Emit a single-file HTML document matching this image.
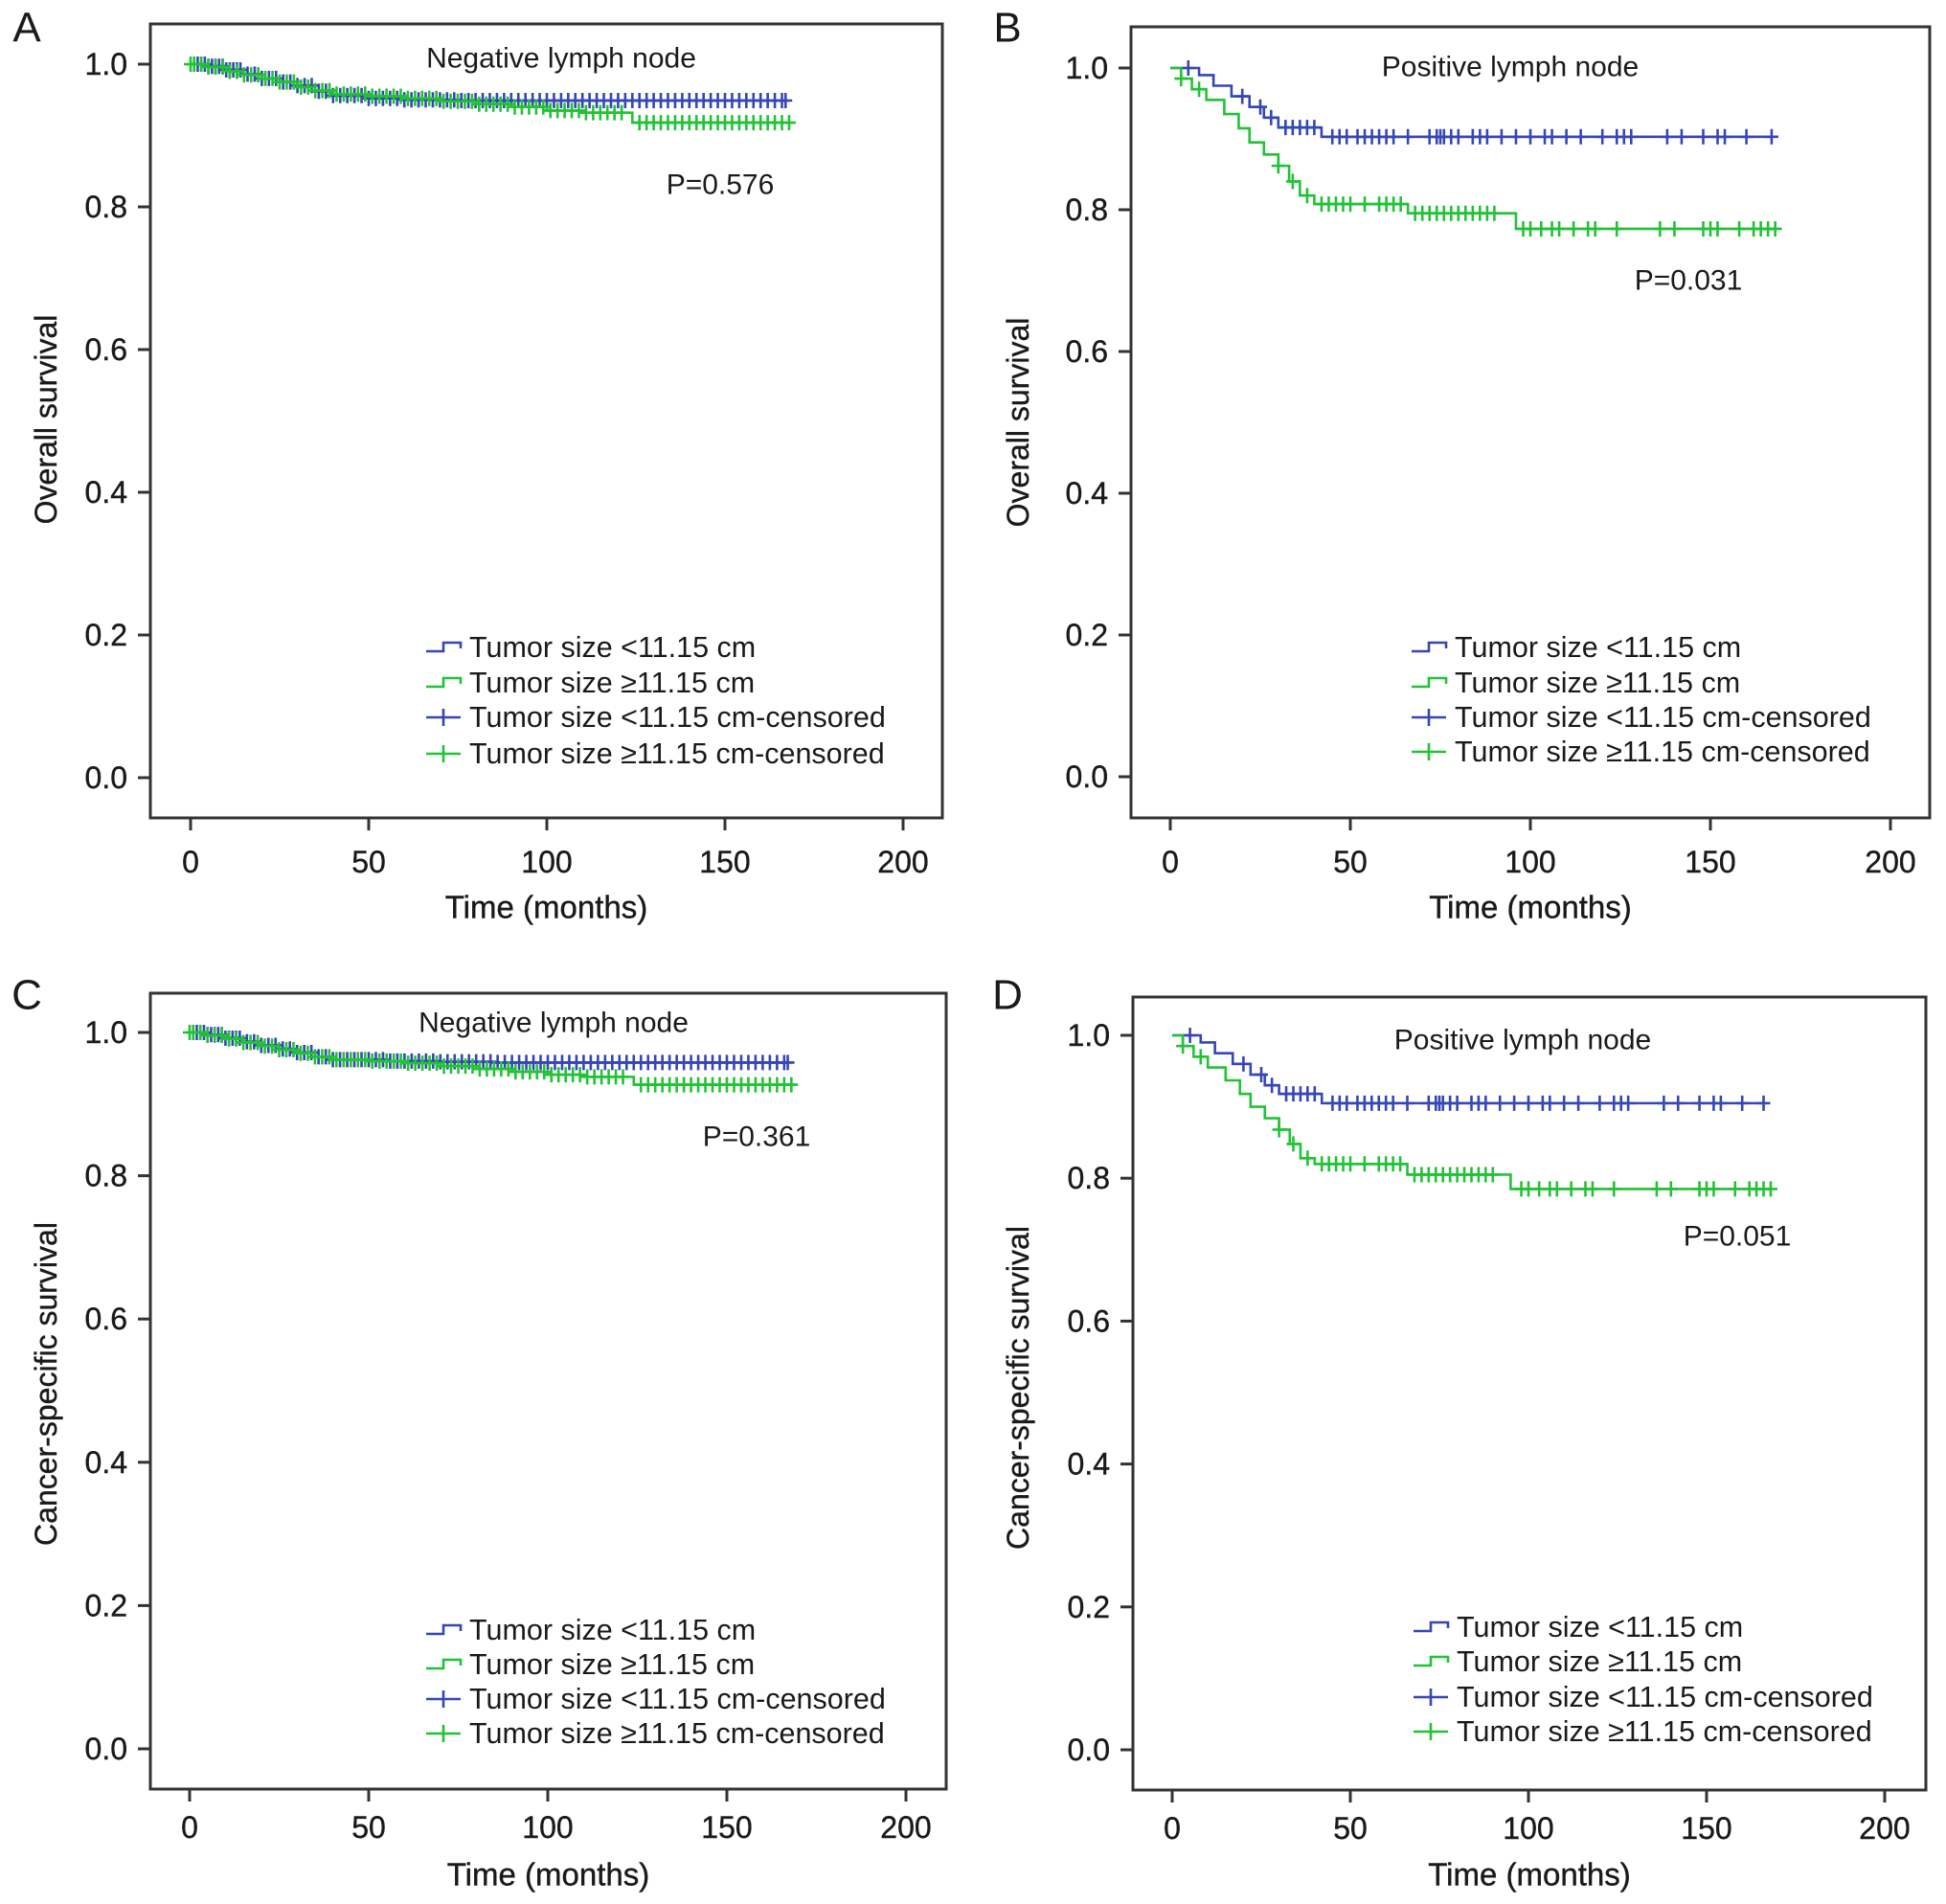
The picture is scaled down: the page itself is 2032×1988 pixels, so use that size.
<!DOCTYPE html>
<html><head><meta charset="utf-8"><style>
html,body{margin:0;padding:0;background:#fff;}
svg{display:block;font-family:"Liberation Sans",Arial,sans-serif;}
</style></head><body>
<svg id="fig" width="2032" height="1988" viewBox="0 0 2032 1988" xmlns="http://www.w3.org/2000/svg"></svg>
<script>
// ---- Panel A data (overall survival, negative lymph node)
const aBlueTimes = [0,5,10,15,20,25,30,35,40,50,60,75,85];
const aBlueSurv  = [1,0.997,0.992,0.986,0.98,0.975,0.97,0.962,0.956,0.952,0.95,0.949,0.949];
const aBlueEnd = 167;
const aGreenTimes = [0,5,10,15,20,25,30,35,40,50,60,70,80,90,100,110,124];
const aGreenSurv  = [1,0.996,0.99,0.985,0.98,0.975,0.968,0.963,0.958,0.955,0.952,0.948,0.944,0.94,0.935,0.932,0.918];
const aGreenEnd = 169;
const aBlueCens = [2,3,4,5,6,7,8,9,10,11,12,13,14,16,18,20,22,24,26,28,30,32,34,36,38,40,42,44,46,48,50,52,54,56,58,60,62,64,66,68,70,72,74,76,78,80,82,84,86,88,90,92,94,96,98,100,102,104,106,108,110,112,114,116,118,120,122,124,126,128,130,132,134,136,138,140,142,144,146,148,150,152,154,156,158,160,162,164,166,167];
const aGreenCens = [0,1,3,5,7,9,11,13,15,17,19,21,23,25,27,29,31,33,35,37,39,41,43,45,47,49,51,53,55,57,59,61,63,65,67,69,71,73,75,77,79,81,83,85,87,89,91,93,95,97,99,101,103,105,107,109,111,113,115,117,119,121,126,128,130,132,134,136,138,140,142,144,146,148,150,152,154,156,158,160,162,164,166,168];
// ---- Panel B data (overall survival, positive lymph node)
const bBlueTimes = [0,8,12,17,22,26,30,42];
const bBlueSurv  = [1,0.99,0.975,0.96,0.945,0.93,0.916,0.903];
const bBlueEnd = 167;
const bGreenTimes = [0,3,6,10,15,19,22,26,30,33,36,40,66,96];
const bGreenSurv  = [1,0.985,0.97,0.955,0.935,0.915,0.895,0.878,0.862,0.84,0.82,0.808,0.795,0.773];
const bGreenEnd = 168;
const bBlueCens = [5,20,25,28,32,34,36,38,40,45,47,49,52,54,56,58,60,62,66,72,74,75,76,78,80,84,86,88,92,96,100,104,106,110,114,120,124,126,128,138,142,148,152,154,160,167];
const bGreenCens = [3,8,30,34,38,42,44,46,48,50,54,58,60,62,64,68,70,72,74,76,78,80,82,84,86,88,90,98,100,103,106,108,112,116,118,124,136,140,148,150,152,158,162,164,166,168];
// ---- Panel C data (cancer-specific survival, negative lymph node)
const cBlueTimes = [0,5,10,15,20,25,30,35,40,55,70,85];
const cBlueSurv  = [1,0.997,0.992,0.987,0.982,0.977,0.972,0.966,0.962,0.96,0.959,0.958];
const cBlueEnd = 167;
const cGreenTimes = [0,5,10,15,20,25,30,35,40,50,60,70,80,90,100,110,124];
const cGreenSurv  = [1,0.996,0.991,0.986,0.981,0.976,0.971,0.966,0.962,0.96,0.957,0.953,0.949,0.945,0.941,0.938,0.927];
const cGreenEnd = 169;
const cBlueCens = [2,3,4,5,6,7,8,9,10,11,12,13,14,16,18,20,22,24,26,28,30,32,34,36,38,40,42,44,46,48,50,52,54,56,58,60,62,64,66,68,70,72,74,76,78,80,82,84,86,88,90,92,94,96,98,100,102,104,106,108,110,112,114,116,118,120,122,124,126,128,130,132,134,136,138,140,142,144,146,148,150,152,154,156,158,160,162,164,166,167];
const cGreenCens = [0,1,3,5,7,9,11,13,15,17,19,21,23,25,27,29,31,33,35,37,39,41,43,45,47,49,51,53,55,57,59,61,63,65,67,69,71,73,75,77,79,81,83,85,87,89,91,93,95,97,99,101,103,105,107,109,111,113,115,117,119,121,126,128,130,132,134,136,138,140,142,144,146,148,150,152,154,156,158,160,162,164,166,168];
// ---- Panel D data (cancer-specific survival, positive lymph node)
const dBlueTimes = [0,8,12,17,22,26,30,42];
const dBlueSurv  = [1,0.99,0.975,0.96,0.945,0.93,0.918,0.905];
const dBlueEnd = 167;
const dGreenTimes = [0,3,6,10,15,19,22,26,30,33,36,40,66,95];
const dGreenSurv  = [1,0.985,0.97,0.955,0.937,0.918,0.9,0.884,0.868,0.848,0.828,0.82,0.805,0.785];
const dGreenEnd = 168;
const dBlueCens = [5,20,25,28,32,34,36,38,40,45,47,49,52,54,56,58,60,62,66,72,74,75,76,78,80,84,86,88,92,96,100,104,106,110,114,120,124,126,128,138,142,148,152,154,160,166];
const dGreenCens = [3,8,30,34,38,42,44,46,48,50,54,58,60,62,64,68,70,72,74,76,78,80,82,84,86,88,90,98,100,103,106,108,112,116,118,124,136,140,148,150,152,158,162,164,166,168];

const xTicks = [0,50,100,150,200];
const yTicks = [0,0.2,0.4,0.6,0.8,1.0];
const yTickLabels = ["0.0","0.2","0.4","0.6","0.8","1.0"];
const legendLabels = ["Tumor size <11.15 cm","Tumor size \u226511.15 cm","Tumor size <11.15 cm-censored","Tumor size \u226511.15 cm-censored"];

const BLUE = "#3646b4", GREEN = "#22c236";
const NS = "http://www.w3.org/2000/svg";
const svg = document.getElementById("fig");
function mk(tag, attrs, parent){
  const e = document.createElementNS(NS, tag);
  for (const k in attrs) e.setAttribute(k, attrs[k]);
  (parent||svg).appendChild(e);
  return e;
}
function txt(s, x, y, size, parent, anchor, extra){
  const t = mk("text", Object.assign({x:x, y:y, "font-size":size, fill:"#1a1a1a", "text-anchor":anchor||"middle", "dominant-baseline":"central"}, extra||{}), parent);
  t.textContent = s;
  return t;
}

const panels = [
  {id:"a", letter:"A", L:157, T:25, R:984, B:854, x0:199, x200:943, y0:812, y1:67,
   title:"Negative lymph node", tx:586, ty:61, p:"P=0.576", px:752, py:193,
   yt:"Overall survival", ytx:48, yty:438, xty:947, xly:900, lgx:445, lgy:[676,713,749,787], lx:28, ly:29,
   bt:aBlueTimes, bs:aBlueSurv, be:aBlueEnd, gt:aGreenTimes, gs:aGreenSurv, ge:aGreenEnd, bc:aBlueCens, gc:aGreenCens},
  {id:"b", letter:"B", L:1181, T:28, R:2015, B:854, x0:1222, x200:1974, y0:811, y1:71,
   title:"Positive lymph node", tx:1577, ty:70, p:"P=0.031", px:1763, py:293,
   yt:"Overall survival", ytx:1063, yty:441, xty:947, xly:900, lgx:1474, lgy:[676,713,749,785], lx:1052, ly:29,
   bt:bBlueTimes, bs:bBlueSurv, be:bBlueEnd, gt:bGreenTimes, gs:bGreenSurv, ge:bGreenEnd, bc:bBlueCens, gc:bGreenCens},
  {id:"c", letter:"C", L:157, T:1037, R:988, B:1868, x0:198, x200:946, y0:1826, y1:1078,
   title:"Negative lymph node", tx:578, ty:1068, p:"P=0.361", px:790, py:1187,
   yt:"Cancer-specific survival", ytx:48, yty:1445, xty:1957, xly:1908, lgx:445, lgy:[1702,1738,1774,1810], lx:28, ly:1039,
   bt:cBlueTimes, bs:cBlueSurv, be:cBlueEnd, gt:cGreenTimes, gs:cGreenSurv, ge:cGreenEnd, bc:cBlueCens, gc:cGreenCens},
  {id:"d", letter:"D", L:1183, T:1041, R:2011, B:1869, x0:1224, x200:1968, y0:1827, y1:1081,
   title:"Positive lymph node", tx:1590, ty:1086, p:"P=0.051", px:1814, py:1291,
   yt:"Cancer-specific survival", ytx:1063, yty:1449, xty:1957, xly:1909, lgx:1476, lgy:[1699,1735,1772,1808], lx:1052, ly:1039,
   bt:dBlueTimes, bs:dBlueSurv, be:dBlueEnd, gt:dGreenTimes, gs:dGreenSurv, ge:dGreenEnd, bc:dBlueCens, gc:dGreenCens}
];

function survAt(times, surv, t){
  let s = surv[0];
  for (let i=0;i<times.length;i++){ if (times[i] <= t) s = surv[i]; }
  return s;
}

panels.forEach(P => {
  const g = mk("g", {});
  
  
  const X = t => P.x0 + (P.x200 - P.x0) * t / 200;
  const Y = s => P.y0 + (P.y1 - P.y0) * s;

  const letter = txt(P.letter, P.lx, P.ly, 44, g);
  
  

  const frame = mk("rect", {x:P.L, y:P.T, width:P.R-P.L, height:P.B-P.T, fill:"none", stroke:"#333", "stroke-width":3}, g);
  
  

  const xa = mk("g", {}, g);
  
  
  xTicks.forEach(v => {
    mk("line", {x1:X(v), x2:X(v), y1:P.B, y2:P.B+13, stroke:"#333", "stroke-width":3}, xa);
    const l = txt(String(v), X(v), P.xly, 32, xa, "middle", {stroke:"#1a1a1a", "stroke-width":0.4});
    
    
  });
  const xt = txt("Time (months)", (P.L+P.R)/2, P.xty, 33, g, "middle", {stroke:"#1a1a1a", "stroke-width":0.4});
  
  

  const ya = mk("g", {}, g);
  
  
  yTicks.forEach((v, i) => {
    mk("line", {x1:P.L-13, x2:P.L, y1:Y(v), y2:Y(v), stroke:"#333", "stroke-width":3}, ya);
    const l = txt(yTickLabels[i], P.L-24, Y(v), 32, ya, "end", {stroke:"#1a1a1a", "stroke-width":0.4});
    
    
  });
  const yt = txt(P.yt, P.ytx, P.yty, 32, g, "middle", {transform:"rotate(-90 "+P.ytx+" "+P.yty+")", stroke:"#1a1a1a", "stroke-width":0.4});
  
  

  const tt = txt(P.title, P.tx, P.ty, 30, g);
  
  
  const pv = txt(P.p, P.px, P.py, 30, g);
  
  

  function curve(times, surv, end, color, name){
    let d = "M" + X(times[0]) + "," + Y(surv[0]);
    for (let i=1;i<times.length;i++){ d += " H" + X(times[i]) + " V" + Y(surv[i]); }
    d += " H" + X(end);
    const p = mk("path", {d:d, fill:"none", stroke:color, "stroke-width":2.6}, g);
    
    
  }
  function cens(times, surv, list, color, name){
    const cg = mk("g", {stroke:color, "stroke-width":2.6}, g);
    
    
    list.forEach(t => {
      const cx = X(t), cy = Y(survAt(times, surv, t));
      const m = mk("path", {d:"M"+(cx-7)+","+cy+" H"+(cx+7)+" M"+cx+","+(cy-8)+" V"+(cy+8)}, cg);
      
      
    });
  }
  curve(P.bt, P.bs, P.be, BLUE, "curve-small-tumor");
  cens(P.bt, P.bs, P.bc, BLUE, "censor-small-tumor");
  curve(P.gt, P.gs, P.ge, GREEN, "curve-large-tumor");
  cens(P.gt, P.gs, P.gc, GREEN, "censor-large-tumor");

  const lg = mk("g", {}, g);
  
  
  legendLabels.forEach((lab, i) => {
    const y = P.lgy[i], x = P.lgx, col = (i % 2 === 0) ? BLUE : GREEN;
    const e = mk("g", {}, lg);
    
    
    if (i < 2) {
      mk("path", {d:"M"+x+","+(y+4)+" H"+(x+18)+" V"+(y-5)+" H"+(x+36)+" V"+(y+1), fill:"none", stroke:col, "stroke-width":2.6}, e);
    } else {
      mk("path", {d:"M"+x+","+y+" H"+(x+36)+" M"+(x+18)+","+(y-9)+" V"+(y+9), fill:"none", stroke:col, "stroke-width":2.6}, e);
    }
    txt(lab, x+45, y, 30.5, e, "start");
  });
});
</script>
</body></html>
